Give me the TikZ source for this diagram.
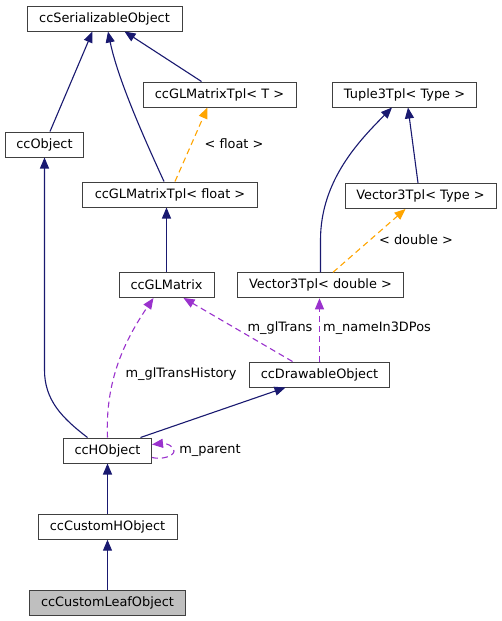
\documentclass[tikz,border=0pt]{standalone}
\usepackage{fontspec}
\setmainfont{DejaVu Sans}
\usetikzlibrary{arrows.meta}
\definecolor{navyline}{HTML}{191970}
\definecolor{orangeline}{HTML}{FFA500}
\definecolor{purpleline}{HTML}{9A32CD}
\definecolor{boxline}{HTML}{404040}
\definecolor{leafgray}{HTML}{BFBFBF}
\begin{document}
\begin{tikzpicture}[x=1pt,y=-1pt,
  cls/.style={draw=boxline, line width=1pt, fill=white, inner sep=0pt, minimum height=25pt, font=\fontsize{12.9}{15}\selectfont},
  inh/.style={navyline, line width=1.1pt, -{Triangle[length=11pt,width=9pt]}},
  tmpl/.style={orangeline, line width=1.1pt, dash pattern=on 6pt off 4pt, -{Triangle[length=11pt,width=9pt]}},
  usage/.style={purpleline, line width=1.1pt, dash pattern=on 6pt off 4pt, -{Triangle[length=11pt,width=9pt]}},
  lbl/.style={font=\fontsize{12.9}{15}\selectfont, inner sep=0pt}
]
\useasboundingbox (0,0) rectangle (501,621);
\fill[white] (0,0) rectangle (501,621);

\node[cls, minimum width=155pt] (ser) at (104.5,18.5) {ccSerializableObject};
\node[cls, minimum width=153pt] (tplT) at (219.5,94.5) {ccGLMatrixTpl< T >};
\node[cls, minimum width=78pt] (obj) at (44.5,144.5) {ccObject};
\node[cls, minimum width=175pt] (flt) at (170,194.5) {ccGLMatrixTpl< float >};
\node[cls, minimum width=144pt] (tup) at (404.5,94.5) {Tuple3Tpl< Type >};
\node[cls, minimum width=151pt] (v3t) at (420.5,196) {Vector3Tpl< Type >};
\node[cls, minimum width=166pt] (v3d) at (320.5,285.3) {Vector3Tpl< double >};
\node[cls, minimum width=95pt] (glm) at (166.5,285) {ccGLMatrix};
\node[cls, minimum width=140pt] (drw) at (319.5,374.5) {ccDrawableObject};
\node[cls, minimum width=88pt] (hobj) at (107.5,450.5) {ccHObject};
\node[cls, minimum width=139pt] (chobj) at (107.5,526.7) {ccCustomHObject};
\node[cls, minimum width=156pt, fill=leafgray] (leaf) at (107.5,602.5) {ccCustomLeafObject};

% inheritance
\draw[inh] ([xshift=5.5pt]obj.north) -- ([xshift=-12pt]ser.south);
\draw[inh] ([xshift=-6pt]flt.north) .. controls (145,140) and (118,80) .. ([xshift=3.5pt]ser.south);
\draw[inh] ([xshift=-18pt]tplT.north) -- ([xshift=20pt]ser.south);
\draw[inh] ([xshift=-20pt]hobj.north) .. controls (62,418) and (44.5,400) .. (44.5,370) -- (obj.south);
\draw[inh] (glm.north) -- (glm.north |- flt.south);
\draw[inh] (v3d.north) -- (320.5,240) .. controls (320.5,180) and (360,140) .. ([xshift=-12.5pt]tup.south);
\draw[inh] ([xshift=-2.5pt]v3t.north) -- ([xshift=3.5pt]tup.south);
\draw[inh] ([xshift=33pt]hobj.north) -- ([xshift=-34pt]drw.south);
\draw[inh] (chobj.north) -- (chobj.north |- hobj.south);
\draw[inh] (leaf.north) -- (leaf.north |- chobj.south);

% template instantiation
\draw[tmpl] ([xshift=5pt]flt.north) -- ([xshift=-12pt]tplT.south);
\node[lbl] (lflt) at (234,144) {< float >};
\draw[tmpl] ([xshift=12.5pt]v3d.north) -- ([xshift=-15pt]v3t.south);
\node[lbl] (ldbl) at (416,239.5) {< double >};

% usage
\draw[usage] ([xshift=-27pt]drw.north) -- ([xshift=17pt]glm.south);
\node[lbl] (lglt) at (280,328.5) {m\_glTrans};
\draw[usage] (drw.north) -- (drw.north |- v3d.south);
\node[lbl, anchor=west] (lname) at (323,328.5) {m\_nameIn3DPos};
\draw[usage] (hobj.north) .. controls (105,380) and (125,340) .. ([xshift=-13pt]glm.south);
\node[lbl] (lhist) at (181,374) {m\_glTransHistory};
\draw[usage] ([yshift=-7pt]hobj.east) .. controls (162,460) and (174,456) .. (174,451) .. controls (174,446) and (166,443) .. ([yshift=6pt]hobj.east);
\node[lbl] (lpar) at (210,450) {m\_parent};
\end{tikzpicture}
\end{document}
